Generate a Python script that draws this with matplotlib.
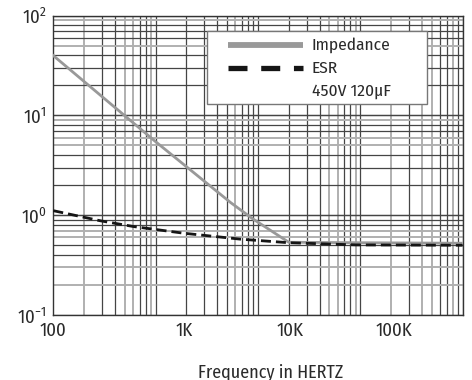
"""Impedance / ESR versus frequency, 450V 120uF capacitor."""

import matplotlib
matplotlib.use("Agg")
import matplotlib.pyplot as plt
from matplotlib.patches import Rectangle

FONTE = "Fira Sans Condensed"
plt.rcParams["font.family"] = [FONTE, "DejaVu Sans"]
plt.rcParams["mathtext.fontset"] = "custom"
plt.rcParams["mathtext.rm"] = FONTE

# Data (frequency in Hz on the grid, ohms)
freq_z = [100, 1000, 5.4e3, 8.9e3, 2.0e4, 1.0e5, 9.7e5]
impedance = [39.7, 5.45, 1.34, 0.92, 0.536, 0.53, 0.524]

freq_esr = [100, 287, 608, 1.88e3, 6.8e3, 2.0e4, 9.1e4, 1.0e6]
esr = [1.11, 0.88, 0.77, 0.66, 0.575, 0.53, 0.504, 0.50]

# Tick labels sit where the original sheet prints them
xtick_pos = [100, 1.91e3, 2.06e4, 2.14e5]
xtick_labels = ["100", "1K", "10K", "100K"]
ytick_pos = [0.1, 1, 10, 100]
ytick_labels = [r"$10^{-1}$", r"$10^{0}$", r"$10^{1}$", r"$10^{2}$"]

legend_labels = ["Impedance", "ESR", "450V 120µF"]

# grid lines printed in light grey instead of dark
X_GRIS = {200, 500, 600, 900, 6e3, 5e4, 6e4, 9e4, 2e5, 4e5, 5e5, 8e5}
Y_GRIS = {0.2, 0.3, 0.6, 0.7, 5, 6, 9, 50, 90}

COR_Z = "#999999"
COR_ESR = "#151515"
COR_TXT = "#2a2a2a"

fig = plt.figure(figsize=(4.72, 3.80), dpi=100)
ax = fig.add_axes([0.113, 0.171, 0.867, 0.788])
ax.set_xscale("log")
ax.set_yscale("log")
ax.set_xlim(100, 1e6)
ax.set_ylim(0.1, 100)

for dec in [100, 1e3, 1e4, 1e5]:
    for m in range(2, 11):
        v = round(dec * m, 6)
        cinza = v in X_GRIS
        ax.axvline(v, color="#b0b0b0" if cinza else "#454545",
                   lw=1.4 if cinza else 0.9, zorder=1)
for dec in [0.1, 1, 10]:
    for m in range(1, 11):
        v = round(dec * m, 6)
        cinza = v in Y_GRIS
        ax.axhline(v, color="#b0b0b0" if cinza else "#454545",
                   lw=1.4 if cinza else 0.9, zorder=1)

ax.plot(freq_z, impedance, color=COR_Z, lw=2.0, zorder=3)
ax.plot(freq_esr, esr, color=COR_ESR, lw=2.0, dashes=(3.6, 1.8), zorder=4)

ax.set_xticks(xtick_pos)
ax.set_xticklabels(xtick_labels, fontsize=13.5, color=COR_TXT)
ax.set_yticks(ytick_pos)
ax.set_yticklabels(ytick_labels, fontsize=13.5, color=COR_TXT)
ax.minorticks_off()
ax.tick_params(length=0, pad=5)

for s in ax.spines.values():
    s.set_color("#333333")
    s.set_linewidth(1.0)

# legenda desenhada à mão, como na folha original
ax.add_patch(Rectangle((0.375, 0.705), 0.537, 0.245, transform=ax.transAxes,
                       facecolor="white", edgecolor="#777777", lw=1.0, zorder=5))
ax.plot([0.427, 0.610], [0.902, 0.902], transform=ax.transAxes,
        color=COR_Z, lw=4.2, solid_capstyle="butt", zorder=6)
ax.plot([0.427, 0.610], [0.825, 0.825], transform=ax.transAxes,
        color=COR_ESR, lw=3.8, dashes=(3.6, 2.6), zorder=6)
for yl, txt in zip([0.902, 0.825, 0.749], legend_labels):
    ax.text(0.632, yl, txt, transform=ax.transAxes, ha="left", va="center",
            fontsize=12.5, color=COR_TXT, zorder=7)

fig.text(0.574, 0.022, "Frequency in HERTZ", ha="center", va="center",
         fontsize=13, color=COR_TXT)

fig.savefig("out.png", dpi=100)
